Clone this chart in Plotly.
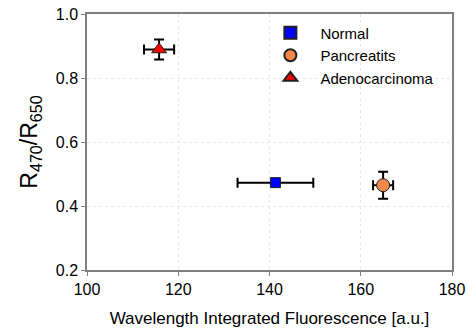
import plotly.graph_objects as go

groups = ["Normal", "Pancreatits", "Adenocarcinoma"]
x_vals = [141.3, 164.9, 115.8]
x_err = [8.3, 2.2, 3.3]
y_vals = [0.473, 0.465, 0.889]
y_err = [0.0, 0.042, 0.031]
symbols = ["square", "circle", "triangle-up"]
colors = ["#0000FF", "#F4874B", "#FF0000"]
sizes = [10, 13, 13]

x_ticks = [100, 120, 140, 160, 180]
y_ticks = [0.2, 0.4, 0.6, 0.8, 1.0]

FONT = "Liberation Sans, Arial"

fig = go.Figure()
for g, x, xe, y, ye, s, c, sz in zip(groups, x_vals, x_err, y_vals, y_err, symbols, colors, sizes):
    fig.add_trace(go.Scatter(
        x=[x], y=[y], name=g, mode="markers",
        marker=dict(symbol=s, color=c, size=sz, line=dict(color="#202020", width=1)),
        error_x=dict(type="data", array=[xe], color="black", thickness=2, width=5, visible=True),
        error_y=dict(type="data", array=[ye], color="black", thickness=2, width=5, visible=ye > 0),
    ))

axis_common = dict(
    showline=True, linecolor="#7f7f7f", linewidth=1.5, mirror=True,
    showgrid=True, gridcolor="#e8e8e8", griddash="dot", gridwidth=1,
    ticks="outside", ticklen=4, tickcolor="#7f7f7f",
    tickfont=dict(family=FONT, size=16, color="black"),
    zeroline=False, automargin=False, ticklabeloverflow="allow",
)

fig.update_layout(
    width=469, height=332,
    margin=dict(l=87, r=17, t=14, b=62),
    paper_bgcolor="white", plot_bgcolor="white",
    showlegend=True,
    legend=dict(x=0.475, y=0.99, xanchor="left", yanchor="top",
                font=dict(family=FONT, size=15, color="black"),
                bgcolor="rgba(0,0,0,0)", itemsizing="constant", tracegroupgap=0,
                itemwidth=50),
    xaxis=dict(range=[100, 180], tickvals=x_ticks, **axis_common,
               title=dict(text="Wavelength Integrated Fluorescence [a.u.]",
                          font=dict(family=FONT, size=17, color="black"),
                          standoff=15)),
    yaxis=dict(range=[0.2, 1.0], tickvals=y_ticks, tickformat=".1f", **axis_common,
               title=dict(text="R<sub>470</sub>/R<sub>650</sub>",
                          font=dict(family=FONT, size=23, color="black"),
                          standoff=12)),
)

fig.write_html("out.html", config={"displayModeBar": False},
               post_script="document.body.style.margin='0';document.body.style.overflow='hidden';")
